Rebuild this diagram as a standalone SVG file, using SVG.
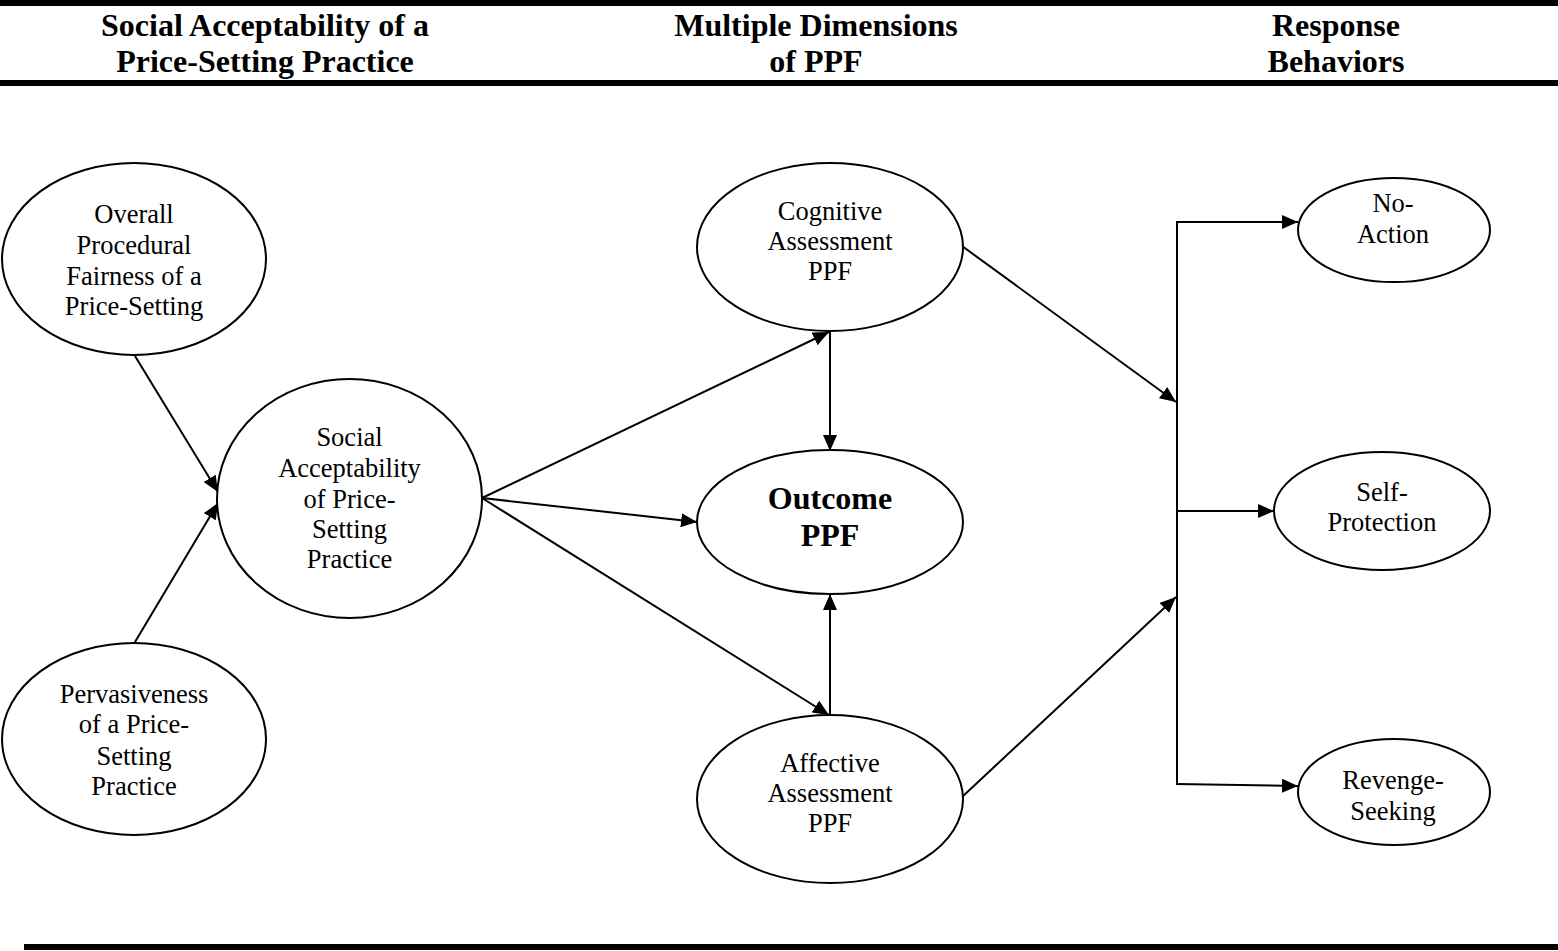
<svg xmlns="http://www.w3.org/2000/svg" width="1558" height="951" viewBox="0 0 1558 951">
<style>
.hdr{font-family:"Liberation Serif","Times New Roman",serif;font-size:32px;font-weight:bold;text-anchor:middle;fill:#000}
.lbl{font-family:"Liberation Serif","Times New Roman",serif;font-size:26.5px;text-anchor:middle;fill:#000}
.big{font-family:"Liberation Serif","Times New Roman",serif;font-size:32px;font-weight:bold;text-anchor:middle;fill:#000}
.node ellipse{fill:#fff;stroke:#000;stroke-width:2}
.edge{fill:none;stroke:#000;stroke-width:2}
.arr{marker-end:url(#ah)}
</style>
<defs>
<marker id="ah" markerUnits="userSpaceOnUse" markerWidth="16" markerHeight="14" refX="16" refY="7" orient="auto">
<path d="M0,0 L16,7 L0,14 z" fill="#000"/>
</marker>
</defs>
<rect width="1558" height="951" fill="#fff"/>
<g id="rules">
<rect x="0" y="0" width="1558" height="6" fill="#000"/>
<rect x="0" y="80" width="1558" height="6" fill="#000"/>
<rect x="24" y="944" width="1534" height="6" fill="#000"/>
</g>
<g id="headers">
<text class="hdr" x="265" y="36">Social Acceptability of a</text>
<text class="hdr" x="265" y="72">Price-Setting Practice</text>
<text class="hdr" x="816" y="36">Multiple Dimensions</text>
<text class="hdr" x="816" y="72">of PPF</text>
<text class="hdr" x="1336" y="36">Response</text>
<text class="hdr" x="1336" y="72">Behaviors</text>
</g>
<g id="connectors">
<line class="edge arr" x1="135" y1="356" x2="218" y2="492"/>
<line class="edge arr" x1="135" y1="642" x2="218" y2="503"/>
<line class="edge arr" x1="482" y1="498" x2="829" y2="332"/>
<line class="edge arr" x1="482" y1="498" x2="697" y2="522"/>
<line class="edge arr" x1="482" y1="498" x2="829" y2="715"/>
<line class="edge arr" x1="830" y1="331" x2="830" y2="451"/>
<line class="edge arr" x1="830" y1="715" x2="830" y2="594"/>
<line class="edge arr" x1="962" y1="246" x2="1176" y2="402"/>
<line class="edge arr" x1="962" y1="797" x2="1176" y2="597"/>
<line class="edge" x1="1177" y1="221" x2="1177" y2="785"/>
<line class="edge arr" x1="1176" y1="222" x2="1298" y2="222"/>
<line class="edge arr" x1="1176" y1="511" x2="1274" y2="511"/>
<line class="edge arr" x1="1176" y1="784" x2="1298" y2="786"/>
</g>
<g id="overall" class="node">
<ellipse cx="134" cy="259" rx="132" ry="96"/>
<text class="lbl" x="134" y="223">Overall</text>
<text class="lbl" x="134" y="254">Procedural</text>
<text class="lbl" x="134" y="285">Fairness of a</text>
<text class="lbl" x="134" y="315">Price-Setting</text>
</g>
<g id="pervasiveness" class="node">
<ellipse cx="134" cy="739" rx="132" ry="96"/>
<text class="lbl" x="134" y="703">Pervasiveness</text>
<text class="lbl" x="134" y="733">of a Price-</text>
<text class="lbl" x="134" y="765">Setting</text>
<text class="lbl" x="134" y="795">Practice</text>
</g>
<g id="social" class="node">
<ellipse cx="349.5" cy="498.5" rx="132.5" ry="119.5"/>
<text class="lbl" x="349.5" y="446">Social</text>
<text class="lbl" x="349.5" y="477">Acceptability</text>
<text class="lbl" x="349.5" y="508">of Price-</text>
<text class="lbl" x="349.5" y="538">Setting</text>
<text class="lbl" x="349.5" y="568">Practice</text>
</g>
<g id="cognitive" class="node">
<ellipse cx="830" cy="247" rx="133" ry="84"/>
<text class="lbl" x="830" y="220">Cognitive</text>
<text class="lbl" x="830" y="250">Assessment</text>
<text class="lbl" x="830" y="280">PPF</text>
</g>
<g id="outcome" class="node">
<ellipse cx="830" cy="522" rx="133" ry="72"/>
<text class="big" x="830" y="509">Outcome</text>
<text class="big" x="830" y="546">PPF</text>
</g>
<g id="affective" class="node">
<ellipse cx="830" cy="799" rx="133" ry="84"/>
<text class="lbl" x="830" y="772">Affective</text>
<text class="lbl" x="830" y="802">Assessment</text>
<text class="lbl" x="830" y="832">PPF</text>
</g>
<g id="noaction" class="node">
<ellipse cx="1394" cy="230" rx="96" ry="52"/>
<text class="lbl" x="1393" y="212">No-</text>
<text class="lbl" x="1393" y="243">Action</text>
</g>
<g id="selfprotection" class="node">
<ellipse cx="1382" cy="511" rx="108" ry="59"/>
<text class="lbl" x="1382" y="501">Self-</text>
<text class="lbl" x="1382" y="531">Protection</text>
</g>
<g id="revenge" class="node">
<ellipse cx="1394" cy="792" rx="96" ry="53"/>
<text class="lbl" x="1393" y="789">Revenge-</text>
<text class="lbl" x="1393" y="820">Seeking</text>
</g>
</svg>
